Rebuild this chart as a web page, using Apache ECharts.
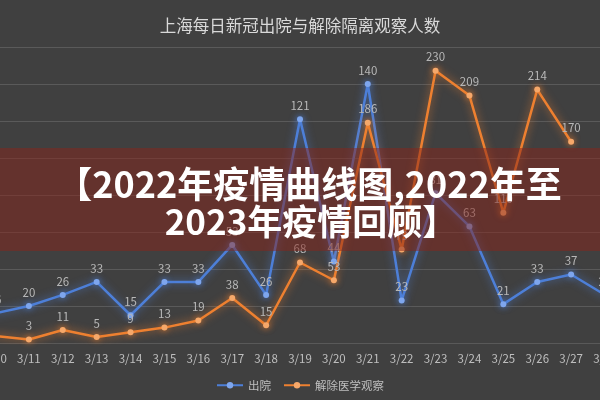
<!DOCTYPE html>
<html>
<head>
<meta charset="utf-8">
<script src="https://cdn.jsdelivr.net/npm/echarts@6/dist/echarts.min.js"></script>
<style>
html,body{margin:0;padding:0;background:#404040;}
#c{width:600px;height:400px;}
</style>
</head>
<body>
<div id="c"></div>
<script>
const titleText = '上海每日新冠出院与解除隔离观察人数';
const categories = ['3/10','3/11','3/12','3/13','3/14','3/15','3/16','3/17','3/18','3/19','3/20','3/21','3/22','3/23','3/24','3/25','3/26','3/27','3/28'];
const seriesNames = ['出院','解除医学观察'];
const discharged = [16,20,26,33,15,33,33,53,26,121,44,140,23,81,63,21,33,37,26];
const released = [6,3,11,5,9,13,19,38,15,68,53,186,79,230,209,110,214,170,null];
const bannerLines = ['【2022年疫情曲线图,2022年至','2023年疫情回顾】'];

const chart = echarts.init(document.getElementById('c'), null, {renderer:'canvas'});
const FONT = '"Noto Sans CJK SC", "Noto Sans", sans-serif';
chart.setOption({
  backgroundColor:'#404040',
  animation:false,
  title:{text:titleText,left:'center',top:12,textStyle:{color:'#d9d9d9',fontSize:16.5,fontWeight:'normal',fontFamily:FONT}},
  grid:{left:-5,right:-5,top:47,bottom:57,containLabel:false,outerBoundsMode:'none'},
  legend:{bottom:4,left:'center',itemWidth:26,itemHeight:8,itemGap:12,
    textStyle:{color:'#bfbfbf',fontSize:11.5,fontFamily:FONT},data:seriesNames},
  xAxis:{type:'category',data:categories,boundaryGap:false,
    axisLine:{lineStyle:{color:'#595959'}},axisTick:{show:false},
    axisLabel:{color:'#bfbfbf',fontSize:11.5,margin:10,fontFamily:FONT,interval:0}},
  yAxis:[
    {type:'value',min:0,max:160,interval:20,axisLabel:{show:false},axisLine:{show:false},axisTick:{show:false},
      splitLine:{lineStyle:{color:'#5a5a5a',width:1}}},
    {type:'value',min:0,max:250,interval:31.25,axisLabel:{show:false},axisLine:{show:false},axisTick:{show:false},
      splitLine:{show:false}}
  ],
  series:[
    {name:seriesNames[0],type:'line',data:discharged,yAxisIndex:0,symbol:'circle',symbolSize:6,
      lineStyle:{color:'#4d7fd8',width:2.5,shadowColor:'rgba(77,127,216,0.8)',shadowBlur:8},
      itemStyle:{color:'#7ea6ee',shadowColor:'rgba(77,127,216,0.9)',shadowBlur:6},
      label:{show:true,position:'top',color:'#b8b8b8',fontSize:11.5,fontFamily:FONT}},
    {name:seriesNames[1],type:'line',data:released,yAxisIndex:1,symbol:'circle',symbolSize:6,connectNulls:false,
      lineStyle:{color:'#ee8030',width:2.5,shadowColor:'rgba(238,128,48,0.8)',shadowBlur:8},
      itemStyle:{color:'#f6a86a',shadowColor:'rgba(238,128,48,0.9)',shadowBlur:6},
      label:{show:true,position:'top',color:'#b8b8b8',fontSize:11.5,fontFamily:FONT}}
  ],
  graphic:[
    {type:'rect',z:100,shape:{x:0,y:148,width:600,height:103},style:{fill:'rgba(135,35,25,0.5)'}},
    {type:'text',z:101,x:309,y:184,style:{text:bannerLines[0],fill:'#ffffff',font:'bold 36px "Noto Sans CJK SC", sans-serif',align:'center',verticalAlign:'middle'}},
    {type:'text',z:101,x:311,y:222,style:{text:bannerLines[1],fill:'#ffffff',font:'bold 35px "Noto Sans CJK SC", sans-serif',align:'center',verticalAlign:'middle'}}
  ]
});
</script>
</body>
</html>
